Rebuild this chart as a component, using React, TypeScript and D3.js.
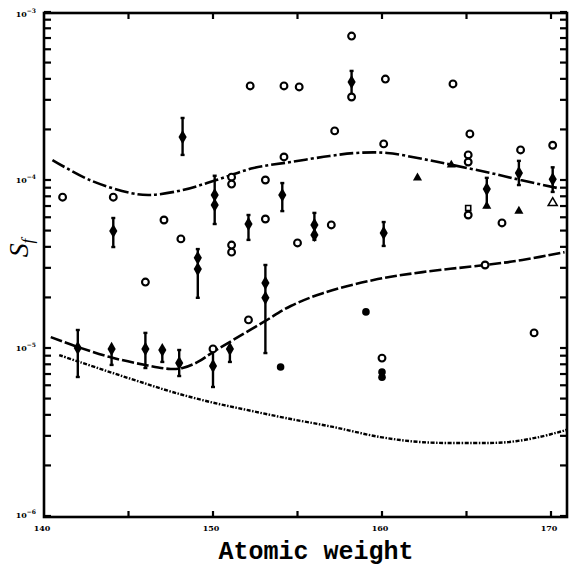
import React from "react";
import * as d3 from "d3";

// ---- data (atomic weight, S_f) ----
const xTicks = [140, 150, 160, 170];
const xMinorTicks = [145, 150, 155, 160, 165, 170];
const yDecades = [1e-3, 1e-4, 1e-5, 1e-6];
const yLabels = ["−3", "−4", "−5", "−6"];

const upperCurve: [number, number][] = [
  [140.5, 1.315e-4], [142.7, 1.0e-4], [145.1, 8.38e-5], [146.3, 8.15e-5], [148.2, 8.71e-5],
  [150.2, 1.0e-4], [152.4, 1.178e-4], [154.6, 1.279e-4], [156.9, 1.39e-4], [158.5, 1.449e-4],
  [160.3, 1.449e-4], [162.4, 1.334e-4], [164.2, 1.227e-4], [166.4, 1.102e-4], [168.2, 1.0e-4],
  [170.4, 8.95e-5],
];
const middleCurve: [number, number][] = [
  [140.4, 1.161e-5], [142.0, 1.014e-5], [143.9, 8.83e-6], [146.0, 7.92e-6], [147.5, 7.5e-6],
  [148.2, 7.6e-6], [149.1, 8.26e-6], [150.0, 9.46e-6], [151.2, 1.117e-5], [153.0, 1.429e-5],
  [154.6, 1.778e-5], [156.5, 2.12e-5], [159.5, 2.54e-5], [162.4, 2.83e-5], [166.1, 3.12e-5],
  [168.3, 3.34e-5], [170.8, 3.72e-5],
];
const lowerCurve: [number, number][] = [
  [140.9, 9.08e-6], [142.1, 8.26e-6], [143.9, 7.19e-6], [145.7, 6.28e-6], [147.6, 5.47e-6],
  [149.8, 4.78e-6], [152.0, 4.28e-6], [154.3, 3.83e-6], [157.1, 3.39e-6], [159.9, 2.95e-6],
  [162.4, 2.75e-6], [165.4, 2.72e-6], [167.4, 2.75e-6], [169.3, 2.95e-6], [170.9, 3.25e-6],
];

const openCircles: [number, number][] = [
  [141.1, 7.9e-5], [144.1, 7.9e-5], [147.1, 5.78e-5], [148.1, 4.46e-5], [151.1, 1.04e-4],
  [151.1, 9.46e-5], [153.1, 1.0e-4], [153.1, 5.86e-5], [155.0, 4.22e-5], [154.2, 1.371e-4],
  [152.2, 3.63e-4], [154.2, 3.63e-4], [155.1, 3.58e-4], [151.1, 4.1e-5], [151.1, 3.72e-5],
  [158.2, 7.19e-4], [158.2, 3.12e-4], [160.2, 3.99e-4], [164.2, 3.73e-4], [157.2, 1.96e-4],
  [160.1, 1.64e-4], [165.2, 1.88e-4], [165.1, 1.41e-4], [165.1, 1.28e-4], [168.2, 1.51e-4],
  [170.1, 1.61e-4], [165.1, 6.19e-5], [167.1, 5.55e-5], [157.0, 5.4e-5], [146.0, 2.47e-5],
  [152.1, 1.47e-5], [150.0, 9.87e-6], [166.1, 3.12e-5], [160.0, 8.71e-6], [169.0, 1.23e-5],
];
const filledCircles: [number, number][] = [
  [159.05, 1.64e-5], [154.0, 7.71e-6], [160.0, 7.2e-6], [160.0, 6.7e-6],
];
const errorBars: [number, number, number][] = [
  [148.2, 1.41e-4, 2.34e-4], [144.1, 3.99e-5, 5.94e-5], [150.1, 5.47e-5, 1.06e-4],
  [152.1, 4.4e-5, 6.19e-5], [154.1, 6.53e-5, 9.59e-5], [149.1, 1.99e-5, 3.88e-5],
  [158.2, 3.12e-4, 4.46e-4], [156.0, 4.4e-5, 6.37e-5], [160.1, 4.05e-5, 5.62e-5],
  [166.2, 6.9e-5, 1.03e-4], [168.1, 9.33e-5, 1.3e-4], [170.1, 8.49e-5, 1.19e-4],
  [142.0, 6.72e-6, 1.28e-5], [144.0, 7.93e-6, 9.87e-6], [146.0, 7.6e-6, 1.23e-5],
  [147.0, 8.26e-6, 9.73e-6], [148.0, 6.81e-6, 9.73e-6], [150.0, 5.86e-6, 9.87e-6],
  [151.0, 8.26e-6, 9.87e-6], [153.1, 9.33e-6, 3.12e-5],
];
const diamonds: [number, number][] = [
  [148.2, 1.8e-4], [144.1, 4.97e-5], [150.1, 8.14e-5], [150.1, 7.1e-5], [152.1, 5.47e-5],
  [154.1, 8.14e-5], [149.1, 3.44e-5], [149.1, 2.95e-5], [158.2, 3.83e-4], [156.0, 5.4e-5],
  [156.0, 4.71e-5], [160.1, 4.84e-5], [166.2, 8.83e-5], [168.1, 1.1e-4], [170.1, 1.01e-4],
  [142.0, 1.0e-5], [144.0, 9.87e-6], [146.0, 9.87e-6], [147.0, 9.73e-6], [148.0, 8.14e-6],
  [150.0, 7.82e-6], [151.0, 9.87e-6], [153.1, 2.44e-5], [153.1, 1.99e-5],
];
const filledTriangles: [number, number][] = [
  [164.1, 1.23e-4], [162.1, 1.03e-4], [166.2, 7.0e-5], [168.1, 6.53e-5],
];
const openTriangles: [number, number][] = [[170.1, 7.3e-5]];
const openSquares: [number, number][] = [[165.1, 6.81e-5]];

// ---- layout ----
const W = 569;
const H = 571;
const x = d3.scaleLinear().domain([140, 170]).range([44, 551]);
const y = d3.scaleLog().domain([1e-6, 1e-3]).range([516, 12]);
const left = x(140);
const right = 567;
const top = 13;
const bottom = 517;

const minorY: number[] = [];
[1e-6, 1e-5, 1e-4].forEach((d) => {
  for (let k = 1; k <= 9; k++) minorY.push(d * k);
});
minorY.push(1e-3);

export default function App() {
  const line = d3
    .line<[number, number]>()
    .x((d) => x(d[0]))
    .y((d) => y(d[1]))
    .curve(d3.curveCatmullRom.alpha(0.5));
  const diamondPath = d3.symbol().type(d3.symbolDiamond).size(58)() as string;
  const triPath = d3.symbol().type(d3.symbolTriangle).size(36)() as string;
  const sqPath = d3.symbol().type(d3.symbolSquare).size(26)() as string;

  return (
    <svg width={W} height={H} style={{ position: "absolute", left: 0, top: 0, background: "#fff" }}>
      <rect x={0} y={0} width={W} height={H} fill="#fff" />
      {/* frame */}
      <rect x={left} y={top} width={right - left} height={bottom - top} fill="none" stroke="#000" strokeWidth={2.6} />
      {/* y ticks */}
      {minorY.map((v, i) => (
        <g key={"yt" + i}>
          <line x1={left} x2={left + 7} y1={y(v)} y2={y(v)} stroke="#000" strokeWidth={2.2} />
          <line x1={right - 7} x2={right} y1={y(v)} y2={y(v)} stroke="#000" strokeWidth={2.2} />
        </g>
      ))}
      {/* x ticks */}
      {xMinorTicks.map((v, i) => (
        <g key={"xt" + i}>
          <line x1={x(v)} x2={x(v)} y1={bottom} y2={bottom - 6} stroke="#000" strokeWidth={2.2} />
          <line x1={x(v)} x2={x(v)} y1={top} y2={top + 6} stroke="#000" strokeWidth={2.2} />
        </g>
      ))}
      {/* x tick labels */}
      {xTicks.map((v) => (
        <text key={"xl" + v} x={x(v) - 2} y={531} fontSize={8} fontFamily="DejaVu Serif" fontWeight="bold" textAnchor="middle">
          {v}
        </text>
      ))}
      {/* y tick labels */}
      {yDecades.map((v, i) => (
        <text key={"yl" + i} x={left - 8} y={Math.min(Math.max(y(v), 14), 515) + 3} fontSize={8} fontFamily="DejaVu Serif" fontWeight="bold" textAnchor="end">
          10
          <tspan dy={-4} fontSize={6}>{yLabels[i]}</tspan>
        </text>
      ))}
      {/* axis titles */}
      <text x={316} y={559} fontSize={25} fontFamily="Liberation Mono" fontWeight="bold" textAnchor="middle">
        Atomic weight
      </text>
      <text transform="translate(28,248) rotate(-90)" fontSize={28} fontFamily="Liberation Serif" fontStyle="italic" textAnchor="middle">
        S<tspan fontSize={17} dy={5}>f</tspan>
      </text>
      {/* curves */}
      <path d={line(upperCurve) || ""} fill="none" stroke="#000" strokeWidth={2.6} strokeDasharray="14,3,3,3" />
      <path d={line(middleCurve) || ""} fill="none" stroke="#000" strokeWidth={2.6} strokeDasharray="12,3" />
      <path d={line(lowerCurve) || ""} fill="none" stroke="#000" strokeWidth={2.4} strokeDasharray="4,1.5,1.5,1.5" />
      {/* error bars */}
      {errorBars.map((d, i) => (
        <g key={"eb" + i} stroke="#000" strokeWidth={2.4}>
          <line x1={x(d[0])} x2={x(d[0])} y1={y(d[1])} y2={y(d[2])} />
          <line x1={x(d[0]) - 2} x2={x(d[0]) + 2} y1={y(d[1])} y2={y(d[1])} />
          <line x1={x(d[0]) - 2} x2={x(d[0]) + 2} y1={y(d[2])} y2={y(d[2])} />
        </g>
      ))}
      {/* markers */}
      {diamonds.map((d, i) => (
        <path key={"dm" + i} d={diamondPath} transform={`translate(${x(d[0])},${y(d[1])})`} fill="#000" />
      ))}
      {openCircles.map((d, i) => (
        <circle key={"oc" + i} cx={x(d[0])} cy={y(d[1])} r={3.4} fill="#fff" stroke="#000" strokeWidth={2.1} />
      ))}
      {filledCircles.map((d, i) => (
        <circle key={"fc" + i} cx={x(d[0])} cy={y(d[1])} r={3.8} fill="#000" />
      ))}
      {filledTriangles.map((d, i) => (
        <path key={"ft" + i} d={triPath} transform={`translate(${x(d[0])},${y(d[1])})`} fill="#000" />
      ))}
      {openTriangles.map((d, i) => (
        <path key={"ot" + i} d={triPath} transform={`translate(${x(d[0])},${y(d[1])})`} fill="#fff" stroke="#000" strokeWidth={1.5} />
      ))}
      {openSquares.map((d, i) => (
        <path key={"os" + i} d={sqPath} transform={`translate(${x(d[0])},${y(d[1])})`} fill="#fff" stroke="#000" strokeWidth={1.6} />
      ))}
    </svg>
  );
}
